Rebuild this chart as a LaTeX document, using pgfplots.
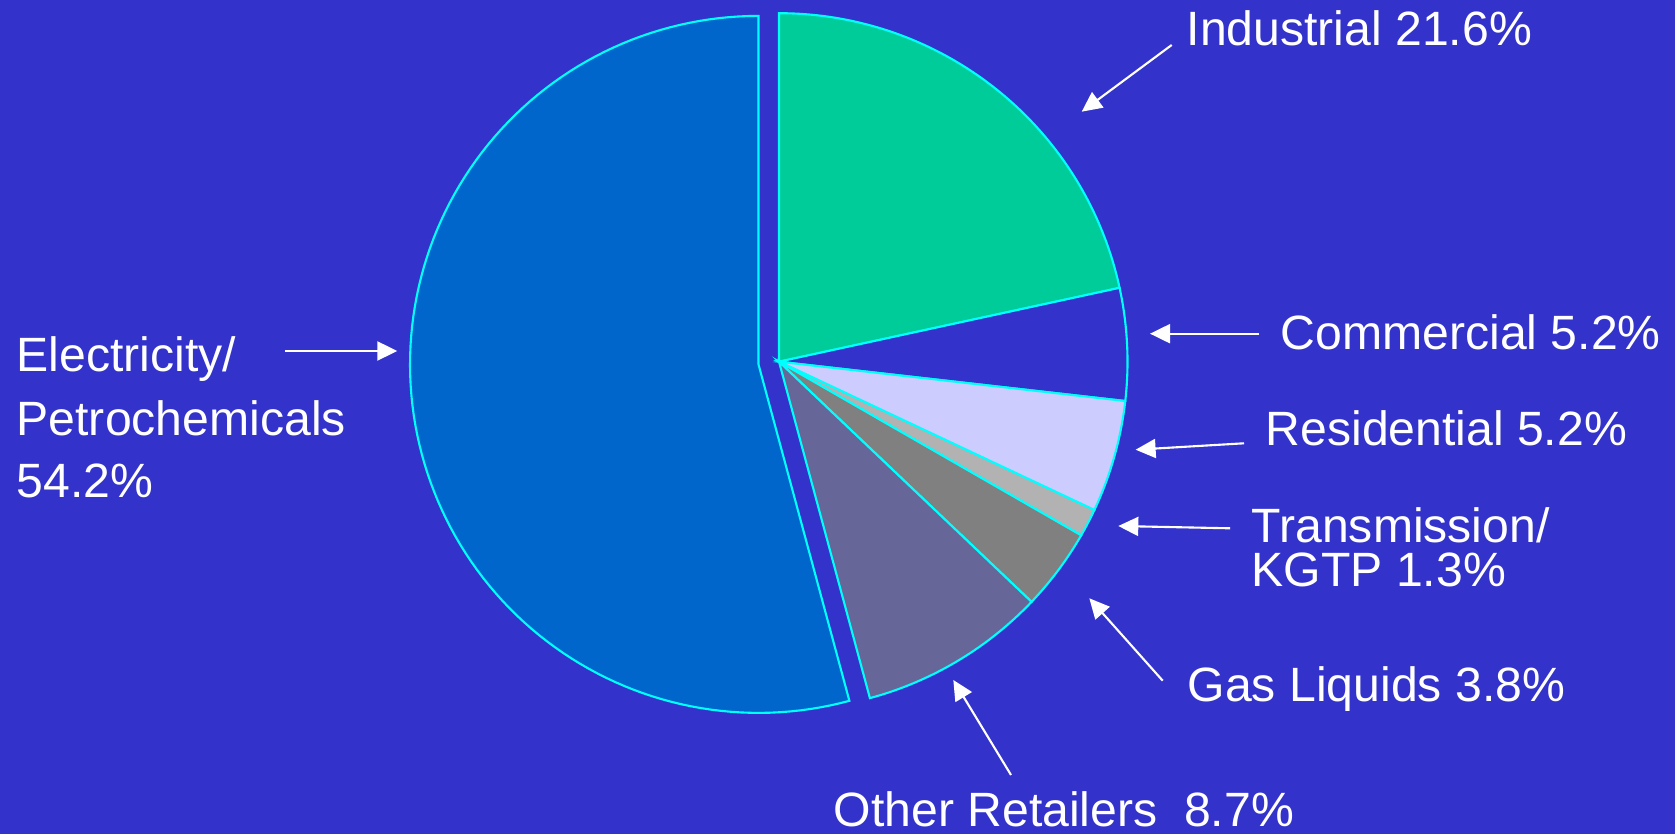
\documentclass[border=0pt]{standalone}
\usepackage{pgfplots}
\pgfplotsset{compat=1.18}
\usepackage{fontspec}
\setmainfont{Liberation Sans}
\usetikzlibrary{arrows.meta}

\definecolor{bg}{HTML}{3333CC}
\definecolor{elec}{HTML}{0066CC}
\definecolor{indu}{HTML}{00CC99}
\definecolor{resi}{HTML}{CCCCFF}
\definecolor{trans}{HTML}{B2B2B2}
\definecolor{gasl}{HTML}{808080}
\definecolor{othr}{HTML}{666699}
\definecolor{edge}{HTML}{00FFFF}

% shares in percent, clockwise from 12 o'clock:
% Industrial 21.6, Commercial 5.2, Residential 5.2, Transmission/KGTP 1.3,
% Gas Liquids 3.8, Other Retailers 8.7, Electricity/Petrochemicals 54.2
% angle = 90 - 3.6*(cumulative percent)

\begin{document}
\begin{tikzpicture}
\begin{axis}[hide axis, scale only axis, x=1cm, y=1cm,
  xmin=0, xmax=16.75, ymin=0, ymax=8.34, clip=false]
\fill[bg] (axis cs:0,0) rectangle (axis cs:16.75,8.34);

\pgfplotsset{slice/.style={draw=edge, line width=0.6pt, fill=#1,
  samples=120, variable=\t, mark=none}}

% Industrial 21.6
\addplot[slice=indu, domain=12.24:90] ({7.79+3.485*cos(t)},{4.723+3.485*sin(t)}) -- (axis cs:7.79,4.723) -- cycle;
% Commercial 5.2
\addplot[slice=bg, domain=-6.48:12.24] ({7.79+3.485*cos(t)},{4.723+3.485*sin(t)}) -- (axis cs:7.79,4.723) -- cycle;
% Residential 5.2
\addplot[slice=resi, domain=-25.2:-6.48] ({7.79+3.485*cos(t)},{4.723+3.485*sin(t)}) -- (axis cs:7.79,4.723) -- cycle;
% Transmission/KGTP 1.3
\addplot[slice=trans, domain=-29.88:-25.2] ({7.79+3.485*cos(t)},{4.723+3.485*sin(t)}) -- (axis cs:7.79,4.723) -- cycle;
% Gas Liquids 3.8
\addplot[slice=gasl, domain=-43.56:-29.88] ({7.79+3.485*cos(t)},{4.723+3.485*sin(t)}) -- (axis cs:7.79,4.723) -- cycle;
% Other Retailers 8.7
\addplot[slice=othr, domain=-74.88:-43.56] ({7.79+3.485*cos(t)},{4.723+3.485*sin(t)}) -- (axis cs:7.79,4.723) -- cycle;
% Electricity/Petrochemicals 54.2, pulled out along its mid angle
\addplot[slice=elec, domain=-270:-74.88] ({7.585+3.485*cos(t)},{4.696+3.485*sin(t)}) -- (axis cs:7.585,4.696) -- cycle;

% labels
\tikzset{lbl/.style={anchor=base west, inner sep=0pt, text=white, font=\fontsize{13.7}{16}\selectfont}}
\node[lbl] at (axis cs:11.86,7.883) {Industrial 21.6\%};
\node[lbl] at (axis cs:12.80,4.847) {Commercial 5.2\%};
\node[lbl] at (axis cs:12.65,3.880) {Residential 5.2\%};
\node[lbl] at (axis cs:12.51,2.913) {Transmission/};
\node[lbl] at (axis cs:12.51,2.473) {KGTP 1.3\%};
\node[lbl] at (axis cs:11.87,1.323) {Gas Liquids 3.8\%};
\node[lbl] at (axis cs:8.33,0.073) {Other Retailers\ \ 8.7\%};
\node[lbl] at (axis cs:0.16,4.623) {Electricity/};
\node[lbl] at (axis cs:0.16,3.980) {Petrochemicals};
\node[lbl] at (axis cs:0.16,3.360) {54.2\%};

% arrows
\tikzset{arr/.style={white, line width=0.6pt, -{Triangle[length=2mm,width=1.9mm]}}}
\draw[arr] (axis cs:11.717,7.890) -- (axis cs:10.817,7.223);
\draw[arr] (axis cs:12.593,5.003) -- (axis cs:11.500,5.003);
\draw[arr] (axis cs:12.440,3.907) -- (axis cs:11.356,3.843);
\draw[arr] (axis cs:12.300,3.057) -- (axis cs:11.183,3.080);
\draw[arr] (axis cs:11.627,1.533) -- (axis cs:10.893,2.357);
\draw[arr] (axis cs:10.110,0.590) -- (axis cs:9.533,1.540);
\draw[arr] (axis cs:2.850,4.830) -- (axis cs:3.973,4.830);
\end{axis}
\end{tikzpicture}
\end{document}
